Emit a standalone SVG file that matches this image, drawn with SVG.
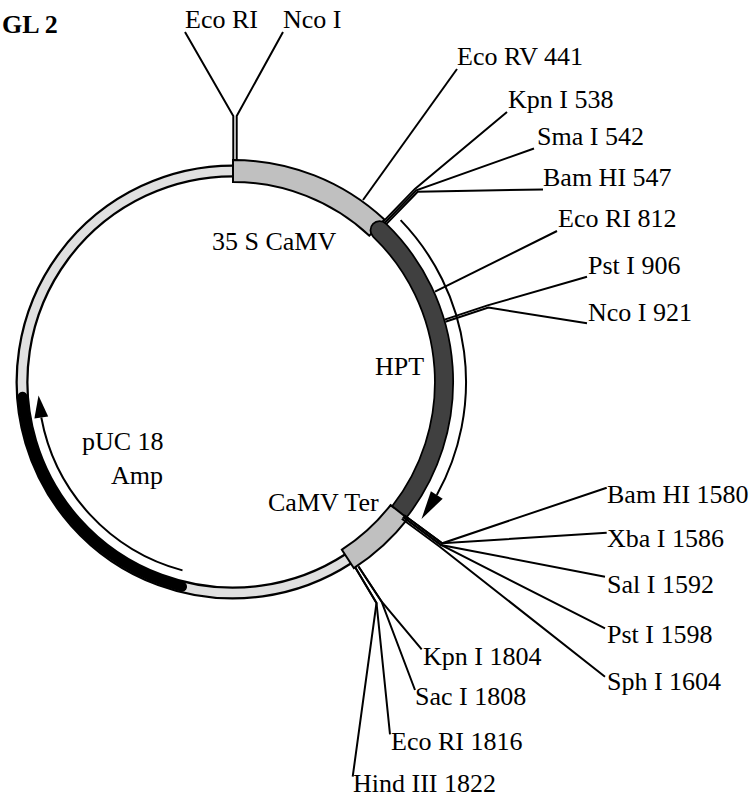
<svg xmlns="http://www.w3.org/2000/svg" width="755" height="801" viewBox="0 0 755 801">
<style>
text{font-family:"Liberation Serif","Times New Roman",serif;font-size:26px;fill:#000}
.b{font-weight:bold}
.site{fill:none;stroke:#000;stroke-width:2;stroke-linejoin:miter}
.band{stroke:#000;stroke-width:2}
</style>
<rect width="755" height="801" fill="#fff"/>
<text class="b" x="2" y="33">GL 2</text>

<g id="backbone">
<path d="M347.9,559 A211,211 0 1 1 233,171" fill="none" stroke="#000" stroke-width="13"/>
<path d="M347.9,559 A211,211 0 1 1 233,171" fill="none" stroke="#e0e0e0" stroke-width="8.5"/>
<path d="M182,586.7 A211,211 0 0 1 22.5,396.7" fill="none" stroke="#000" stroke-width="10" stroke-linecap="round"/>
</g>

<g id="n35S">
<path class="band" d="M233,160 A222,222 0 0 1 384.4,219.6 L369.4,235.7 A200,200 0 0 0 233,182 Z" fill="#c0c0c0"/>
<text x="212" y="250">35 S CaMV</text>
</g>

<g id="HPT">
<path d="M379.6,230.2 A211,211 0 0 1 399.3,511.9" fill="none" stroke="#000" stroke-width="20" stroke-linecap="round"/>
<path d="M379.6,230.2 A211,211 0 0 1 399.3,511.9" fill="none" stroke="#404040" stroke-width="16.5" stroke-linecap="round"/>
<path d="M400.6,220.1 A233,233 0 0 1 436.8,495" fill="none" stroke="#000" stroke-width="2"/>
<polygon points="421.5,519 430.9,491.3 442.7,498.7" fill="#000"/>
<text x="375" y="375">HPT</text>
</g>

<g id="CaMVTer">
<path class="band" d="M407.9,518.7 A222,222 0 0 1 353.9,568.2 L341.9,549.7 A200,200 0 0 0 390.6,505.1 Q397,510 407.9,518.7 Z" fill="#c0c0c0"/>
<text x="268" y="511">CaMV Ter</text>
</g>

<g id="pUC18">
<path d="M182.5,570.4 A195,195 0 0 1 41.3,417.5" fill="none" stroke="#000" stroke-width="2"/>
<polygon points="38.5,395.6 34.4,418.4 48.2,416.6" fill="#000"/>
<text x="82" y="450">pUC 18</text>
<text x="111" y="484">Amp</text>
</g>

<g id="connectors">
<polyline class="site" points="233.3,160 233.3,116 185,32"/>
<polyline class="site" points="236.7,160 236.7,116 283,32"/>
<polyline class="site" points="363,200 457,69"/>
<polyline class="site" points="383.2,221.6 414.9,188.9 507,112"/>
<polyline class="site" points="384.6,223 416.3,190.3 534,148.5"/>
<polyline class="site" points="386,224.4 417.7,191.7 543,189.5"/>
<polyline class="site" points="435,291.7 557,231"/>
<polyline class="site" points="444.6,319.6 487.6,305.4 587,276.7"/>
<polyline class="site" points="445.4,321.8 488.4,307.6 587,323.3"/>
<polyline class="site" points="404.2,515.3 442.2,543.3 606.7,487.7"/>
<polyline class="site" points="404.2,515.3 442.2,543.3 606.7,532.7"/>
<polyline class="site" points="403,517 441,545 605,576.7"/>
<polyline class="site" points="403,517 441,545 605,628.3"/>
<polyline class="site" points="401.8,518.7 439.8,546.7 605,676.7"/>
<polyline class="site" points="355,567 376.5,603 352.7,776.7"/>
<polyline class="site" points="355,567 376.5,603 390,734.3"/>
<polyline class="site" points="358.5,566.5 381.5,601.5 421.7,649.3"/>
<polyline class="site" points="358.5,566.5 381.5,601.5 415,690"/>
</g>

<g id="labels">
<text x="185" y="28">Eco RI</text>
<text x="283" y="28">Nco I</text>
<text x="457" y="65">Eco RV 441</text>
<text x="508" y="108">Kpn I 538</text>
<text x="537" y="145">Sma I 542</text>
<text x="543" y="186">Bam HI 547</text>
<text x="558" y="227">Eco RI 812</text>
<text x="588" y="274">Pst I 906</text>
<text x="588" y="321">Nco I 921</text>
<text x="607" y="503">Bam HI 1580</text>
<text x="607" y="547">Xba I 1586</text>
<text x="607" y="593">Sal I 1592</text>
<text x="607" y="643">Pst I 1598</text>
<text x="607" y="690">Sph I 1604</text>
<text x="423" y="665">Kpn I 1804</text>
<text x="415" y="705">Sac I 1808</text>
<text x="391" y="750">Eco RI 1816</text>
<text x="353" y="792">Hind III 1822</text>
</g>
</svg>
